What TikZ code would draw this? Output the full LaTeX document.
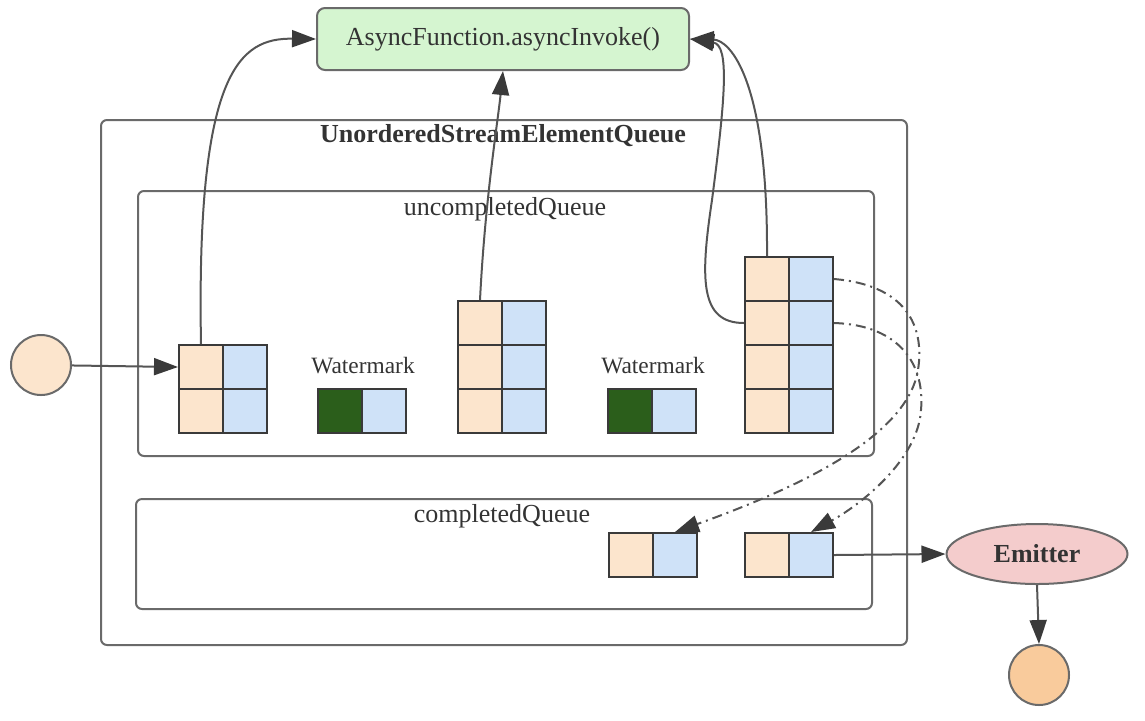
\documentclass[tikz,border=0pt]{standalone}
\usepackage{fontspec}
\setmainfont{Liberation Serif}
\usepackage{xcolor}
\definecolor{cEdge}{HTML}{3A3A3A}
\definecolor{cLine}{HTML}{555555}
\definecolor{cFrame}{HTML}{6A6A6A}
\definecolor{cText}{HTML}{333333}
\definecolor{cKey}{HTML}{FCE5CD}
\definecolor{cVal}{HTML}{CFE2F8}
\definecolor{cMark}{HTML}{2B5E1B}
\definecolor{cCall}{HTML}{D5F5D0}
\definecolor{cEmit}{HTML}{F4CCCC}
\definecolor{cSink}{HTML}{F9CB9C}
\usetikzlibrary{arrows.meta,shapes.geometric}
\tikzset{
  cell/.style={draw=cEdge,line width=1pt,minimum size=22pt,inner sep=0pt},
  cell-key/.style={cell,fill=cKey},
  cell-val/.style={cell,fill=cVal},
  cell-mark/.style={cell,fill=cMark},
  queue-box/.style={draw=cFrame,line width=1pt,rounded corners=3pt},
  queue-label/.style={text=cText,font=\fontsize{13}{15}\selectfont},
  node-call/.style={draw=cFrame,line width=1pt,fill=cCall,rounded corners=4pt,
    minimum width=186pt,minimum height=31pt,text=cText,font=\fontsize{13}{15}\selectfont},
  node-end/.style={draw=cFrame,line width=1pt,circle,minimum size=30pt,inner sep=0pt},
  arrow/.style={-{Triangle[length=12pt,width=8.5pt,color=cEdge,fill=cEdge]},line width=1pt,draw=cLine},
  arrow-async/.style={arrow,dash pattern=on 5pt off 2.5pt on 1pt off 2.5pt},
}

\begin{document}
\begin{tikzpicture}[x=0.5pt,y=-0.5pt]
  \useasboundingbox (0,0) rectangle (1145,720);
  \node[node-call] (fn) at (503,39) {AsyncFunction.asyncInvoke()};

  % queue frames
  \draw[queue-box] (101,120) rectangle (907,645);
  \draw[queue-box] (138,191) rectangle (874,456);
  \draw[queue-box] (136,499) rectangle (872,609);
  \node[queue-label,font=\bfseries\fontsize{13}{15}\selectfont] (title) at (503,136) {UnorderedStreamElementQueue};
  \node[queue-label] (ulabel) at (505,209) {uncompletedQueue};
  \node[queue-label] (clabel) at (502,516) {completedQueue};

  % uncompleted elements
  \foreach \r/\y in {1/367,2/411} {
    \node[cell-key] (a\r k) at (201,\y) {};
    \node[cell-val] (a\r v) at (245,\y) {};
  }
  \foreach \r/\y in {1/323,2/367,3/411} {
    \node[cell-key] (b\r k) at (480,\y) {};
    \node[cell-val] (b\r v) at (524,\y) {};
  }
  \foreach \r/\y in {1/279,2/323,3/367,4/411} {
    \node[cell-key] (c\r k) at (767,\y) {};
    \node[cell-val] (c\r v) at (811,\y) {};
  }
  \node[cell-mark] (w1k) at (340,411) {};
  \node[cell-val] (w1v) at (384,411) {};
  \node[cell-mark] (w2k) at (630,411) {};
  \node[cell-val] (w2v) at (674,411) {};
  \node[queue-label,font=\fontsize{11.7}{14}\selectfont] (w1label) at (363,366) {Watermark};
  \node[queue-label,font=\fontsize{11.7}{14}\selectfont] (w2label) at (653,366) {Watermark};

  % completed elements
  \node[cell-key] (dk) at (631,555) {};
  \node[cell-val] (dv) at (675,555) {};
  \node[cell-key] (ek) at (767,555) {};
  \node[cell-val] (ev) at (811,555) {};

  \node[node-end,fill=cKey] (src) at (41,365) {};
  \node[ellipse,draw=cFrame,line width=1pt,fill=cEmit,minimum width=90.5pt,minimum height=30pt,
    text=cText,font=\bfseries\fontsize{13}{15}\selectfont] (emit) at (1037,554) {Emitter};
  \node[node-end,fill=cSink] (sink) at (1039,675) {};

  \draw[arrow] (src) -- (a1k.west);
  \draw[arrow] (a1k.north) .. controls (196,70) and (240,38) .. (fn.west);
  \draw[arrow] (b1k.north) .. controls (485,200) and (498,120) .. (fn.south);
  \draw[arrow] (c1k.north) .. controls (768,80) and (730,40) .. (fn.east);
  \draw[arrow] (c2k.west) .. controls (700,323) and (700,280) .. (712,200)
    .. controls (725,100) and (730,45) .. (fn.east);
  \draw[arrow-async] (c1v.east) .. controls (905,285) and (925,325) .. (918,370)
    .. controls (908,430) and (820,480) .. (dv.north);
  \draw[arrow-async] (c2v.east) .. controls (900,325) and (925,365) .. (921,410)
    .. controls (918,460) and (860,505) .. (ev.north);
  \draw[arrow] (ev.east) -- (emit.west);
  \draw[arrow] (emit.south) -- (sink.north);
\end{tikzpicture}
\end{document}
